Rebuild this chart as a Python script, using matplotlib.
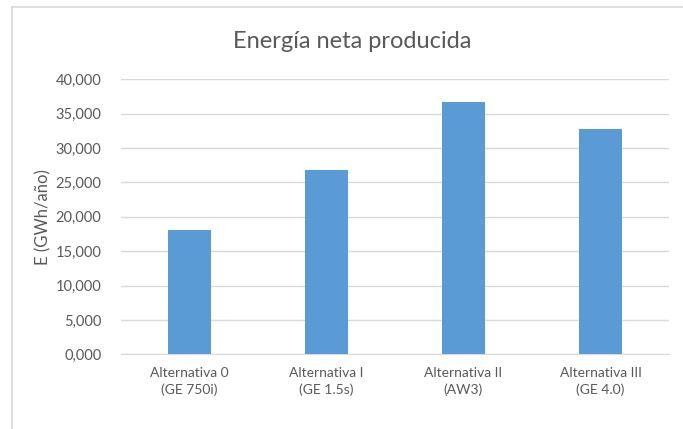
import numpy as np
import matplotlib.pyplot as plt
from matplotlib.lines import Line2D

# Energía neta producida por alternativa (GWh/año)
alternativas = ['Alternativa 0\n(GE 750i)', 'Alternativa I\n(GE 1.5s)',
                'Alternativa II\n(AW3)', 'Alternativa III\n(GE 4.0)']
energia = [18.1, 26.8, 36.7, 32.7]
yticks = [0, 5, 10, 15, 20, 25, 30, 35, 40]

plt.rcParams['font.family'] = ['Lato', 'DejaVu Sans']
gris = '#595959'

fig = plt.figure(figsize=(6.83, 4.29), dpi=100)
ax = fig.add_axes([121 / 683, 1 - 354.3 / 429, 548 / 683, 275 / 429])

x = np.arange(len(alternativas))
ax.bar(x, energia, width=0.31, color='#5b9bd5', zorder=3)

ax.set_xlim(-0.5, len(alternativas) - 0.5)
ax.set_ylim(0, 40)
ax.set_yticks(yticks)
ax.set_yticklabels(['{:.3f}'.format(v).replace('.', ',') for v in yticks])
ax.set_xticks(x)
ax.set_xticklabels(alternativas, linespacing=1.45)
ax.yaxis.grid(True, color='#d9d9d9', linewidth=1.0, zorder=0)
ax.tick_params(axis='both', length=0, colors=gris)
ax.tick_params(axis='y', pad=14, labelsize=10.5)
ax.tick_params(axis='x', pad=9, labelsize=10)
for s in ['top', 'right', 'left']:
    ax.spines[s].set_visible(False)
ax.spines['bottom'].set_color('#d9d9d9')
ax.set_ylabel('E (GWh/año)', fontsize=12, color=gris, labelpad=3)

fig.text(352 / 683, 1 - 42 / 429, 'Energía neta producida',
         ha='center', va='center', fontsize=17, color=gris)

# marco del gráfico
fig.add_artist(Line2D([12 / 683, 1], [1 - 7 / 429] * 2, color='#d9d9d9', lw=1.2))
fig.add_artist(Line2D([12 / 683] * 2, [0, 1 - 7 / 429], color='#d9d9d9', lw=1.2))

plt.savefig('out.png', dpi=100)
